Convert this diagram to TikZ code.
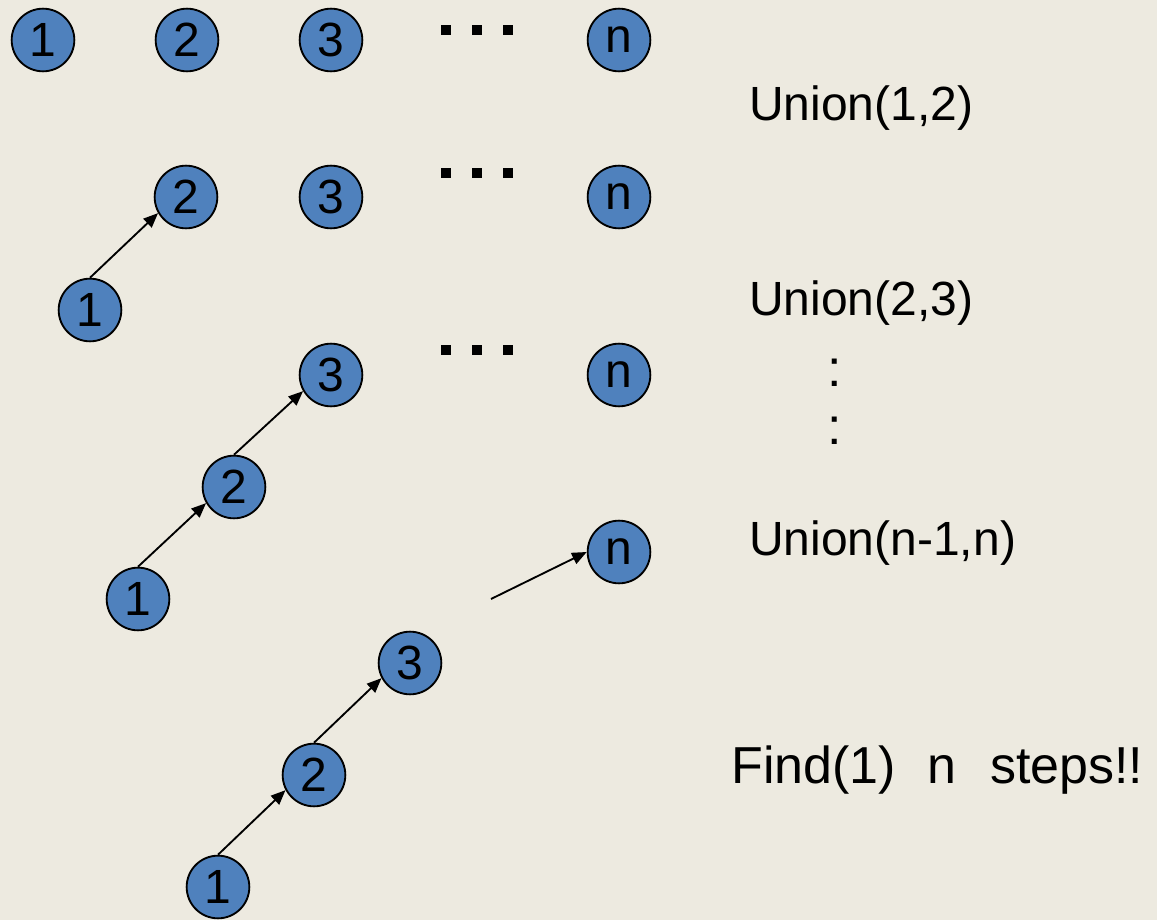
\documentclass[tikz,border=0pt]{standalone}
\usepackage{fontspec}
\setmainfont{Liberation Sans}
\usetikzlibrary{arrows.meta}
\definecolor{slidebg}{RGB}{237,234,224}
\definecolor{setblue}{RGB}{79,129,189}

\begin{document}
\begin{tikzpicture}[x=0.75pt,y=0.75pt,yscale=-1,xscale=1,
  elem/.style={circle,draw=black,line width=1.4pt,fill=setblue,minimum size=47pt,inner sep=0pt,font=\fontsize{36}{40}\selectfont},
  link/.style={line width=1.4pt,-{Triangle[length=11pt,width=9pt]}},
  lbl/.style={anchor=base west,inner sep=0pt,font=\fontsize{36}{40}\selectfont},
  vdots/.style={anchor=base,inner sep=0pt,font=\fontsize{39}{44}\selectfont}]

%set diagram area
\fill [slidebg] (0,0) rectangle (1157,920);

%Row 1: singletons
\node [elem] (a1) at (43,40) {1};
\node [elem] (a2) at (187,40) {2};
\node [elem] (a3) at (331,40) {3};
\node [elem] (an) at (619,40) {n};

%Row 2: after Union(1,2)
\node [elem] (b1) at (90,310) {1};
\node [elem] (b2) at (186,197) {2};
\node [elem] (b3) at (331,197) {3};
\node [elem] (bn) at (619,197) {n};
\draw [link] (b1.north) -- (b2.210);

%Row 3: after Union(2,3)
\node [elem] (c1) at (138,599) {1};
\node [elem] (c2) at (234,487) {2};
\node [elem] (c3) at (331,375) {3};
\node [elem] (cn) at (619,375) {n};
\draw [link] (c1.north) -- (c2.210);
\draw [link] (c2.north) -- (c3.210);

%square leader dots between 3 and n
\foreach \y in {25,168,345}
  \foreach \x in {441,472,503}
    \fill (\x,\y) rectangle ++(10,10);

%Row 4: the whole chain
\node [elem] (d1) at (218,887) {1};
\node [elem] (d2) at (314,775) {2};
\node [elem] (d3) at (410,663) {3};
\node [elem] (dn) at (619,552) {n};
\coordinate (dtail) at (491,599);
\draw [link] (d1.north) -- (d2.208);
\draw [link] (d2.north) -- (d3.208);
\draw [link] (dtail) -- (dn.west);

% Text Node
\node [lbl] (u12) at (749,121) {Union(1,2)};
% Text Node
\node [lbl] (u23) at (749,315) {Union(2,3)};
% Text Node
\node [vdots] (skip1) at (835,386) {:};
\node [vdots] (skip2) at (835,444) {:};
% Text Node
\node [lbl] (unn) at (749,555) {Union(n-1,n)};
% Text Node
\node [lbl,font=\fontsize{39}{44}\selectfont] (find) at (731,783) {Find(1)\hspace{24pt}n\hspace{25pt}steps!!};

\end{tikzpicture}
\end{document}
